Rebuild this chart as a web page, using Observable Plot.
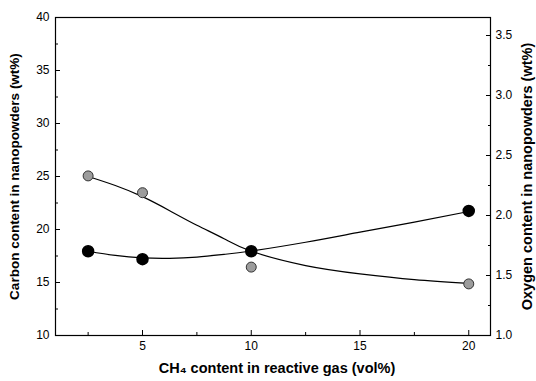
<!DOCTYPE html>
<html>
<head>
<meta charset="utf-8">
<script src="https://cdn.jsdelivr.net/npm/d3@7"></script>
<script src="https://cdn.jsdelivr.net/npm/@observablehq/plot@0.6"></script>
<style>
  html, body { margin: 0; padding: 0; background: #fff; }
  svg { font-family: "Liberation Sans", Arial, sans-serif; }
</style>
</head>
<body>
<div id="chart"></div>
<script>
// ---- data ----
const ch4 = [2.5, 5, 10, 20];                       // CH4 content (vol%)
const carbon = [17.95, 17.2, 17.95, 21.75];         // wt%, left axis
const oxygen = [2.33, 2.19, 1.57, 1.43];            // wt%, right axis

// smooth fitted curves as drawn in the figure
const carbonFitX = [2.5, 3.75, 5, 6.25, 7.5, 8.75, 10, 12.5, 15, 17.5, 20];
const carbonFit  = [17.95, 17.55, 17.32, 17.28, 17.4, 17.65, 17.97, 18.8, 19.75, 20.7, 21.7];
const oxygenFitX = [2.5, 3.75, 5, 6.25, 7.5, 8.75, 10, 12.5, 15, 17.5, 20];
const oxygenFit  = [2.325, 2.25, 2.157, 2.04, 1.919, 1.806, 1.702, 1.583, 1.514, 1.466, 1.435];

// axes
const xDomain = [1, 21];
const leftDomain = [10, 40];
const rightDomain = [1.0, 3.65];
const xMajor = [5, 10, 15, 20];
const xMinor = [2.5, 7.5, 12.5, 17.5];
const leftMajor = [10, 15, 20, 25, 30, 35, 40];
const leftMinor = [12.5, 17.5, 22.5, 27.5, 32.5, 37.5];
const rightMajor = [1.0, 1.5, 2.0, 2.5, 3.0, 3.5];
const rightMinor = [1.25, 1.75, 2.25, 2.75, 3.25];

const xTitle = "CH\u2084 content in reactive gas (vol%)";
const leftTitle = "Carbon content in nanopowders (wt%)";
const rightTitle = "Oxygen content in nanopowders (wt%)";

// map right-axis values onto the left scale
const toLeft = d3.scaleLinear().domain(rightDomain).range(leftDomain);

const pts = ch4.map((x, i) => ({x, c: carbon[i], o: toLeft(oxygen[i])}));
const cFit = carbonFitX.map((x, i) => ({x, y: carbonFit[i]}));
const oFit = oxygenFitX.map((x, i) => ({x, y: toLeft(oxygenFit[i])}));

const plot = Plot.plot({
  width: 536,
  height: 381,
  marginLeft: 55,
  marginRight: 46,
  marginTop: 17,
  marginBottom: 46,
  style: {fontFamily: '"Liberation Sans", Arial, sans-serif', fontSize: "12px", color: "#000", background: "#fff"},
  x: {domain: xDomain},
  y: {domain: leftDomain},
  marks: [
    Plot.frame({stroke: "#000", strokeWidth: 1.2}),
    // bottom axis
    Plot.axisX(xMajor, {anchor: "bottom", tickSize: 0, tickPadding: 6, label: null, fontSize: 12}),
    Plot.axisX(xMajor, {anchor: "bottom", tickSize: -5, tickFormat: () => "", label: null}),
    Plot.axisX(xMinor, {anchor: "bottom", tickSize: -3, tickFormat: () => "", label: null}),
    // left axis
    Plot.axisY(leftMajor, {anchor: "left", tickSize: 0, tickPadding: 6, label: null, fontSize: 12}),
    Plot.axisY(leftMajor, {anchor: "left", tickSize: -5, tickFormat: () => "", label: null}),
    Plot.axisY(leftMinor, {anchor: "left", tickSize: -3, tickFormat: () => "", label: null}),
    // right axis (oxygen)
    Plot.axisY(rightMajor.map(toLeft), {anchor: "right", tickSize: 0, tickPadding: 5, label: null, fontSize: 12,
      tickFormat: d => toLeft.invert(d).toFixed(1)}),
    Plot.axisY(rightMajor.map(toLeft), {anchor: "right", tickSize: -5, tickFormat: () => "", label: null}),
    Plot.axisY(rightMinor.map(toLeft), {anchor: "right", tickSize: -3, tickFormat: () => "", label: null}),
    // titles
    Plot.text([xTitle], {frameAnchor: "bottom", text: d => d, dx: 4, dy: 37, textAnchor: "middle", fontWeight: "bold", fontSize: 14.5}),
    Plot.text([leftTitle], {frameAnchor: "left", text: d => d, dx: -41, rotate: -90, textAnchor: "middle", fontWeight: "bold", fontSize: 13.5}),
    Plot.text([rightTitle], {frameAnchor: "right", text: d => d, dx: 37, dy: 0, rotate: -90, textAnchor: "middle", fontWeight: "bold", fontSize: 14.5}),
    // fitted curves
    Plot.line(cFit, {x: "x", y: "y", curve: "natural", stroke: "#000", strokeWidth: 1.2}),
    Plot.line(oFit, {x: "x", y: "y", curve: "natural", stroke: "#000", strokeWidth: 1.2}),
    // data points
    Plot.dot(pts, {x: "x", y: "o", r: 5, fill: "#9c9c9c", stroke: "#333", strokeWidth: 1}),
    Plot.dot(pts, {x: "x", y: "c", r: 5.5, fill: "#000", stroke: "#000"})
  ]
});
document.getElementById("chart").appendChild(plot);
</script>
</body>
</html>
